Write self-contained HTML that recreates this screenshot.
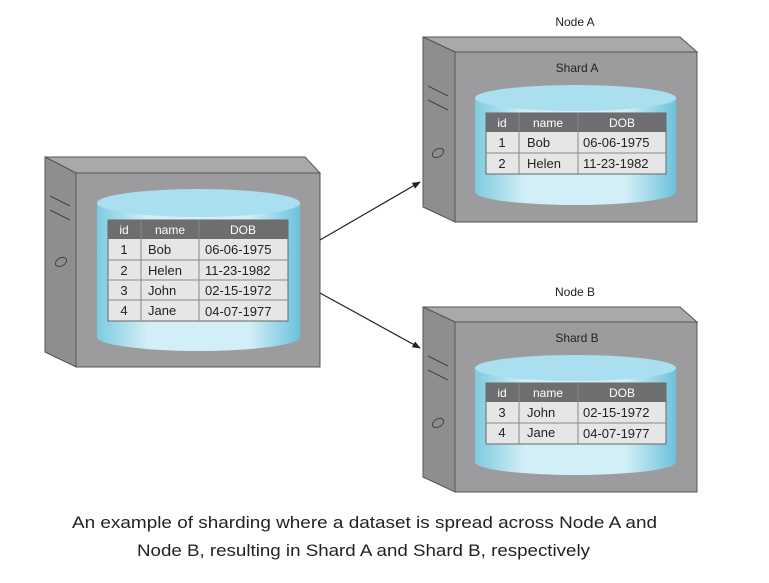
<!DOCTYPE html>
<html><head><meta charset="utf-8"><style>
html,body{margin:0;padding:0;background:#fff;width:769px;height:583px;overflow:hidden}
</style></head><body>
<svg width="769" height="583" viewBox="0 0 769 583" xmlns="http://www.w3.org/2000/svg" font-family="Liberation Sans, Arial, sans-serif">
<defs>
<linearGradient id="cyl" x1="0" x2="1" y1="0" y2="0">
<stop offset="0" stop-color="#7fcbe0"/><stop offset="0.25" stop-color="#d2eef6"/><stop offset="0.75" stop-color="#d2eef6"/><stop offset="1" stop-color="#6cc2dc"/>
</linearGradient>
<marker id="ar" viewBox="0 0 10 10" refX="9" refY="5" markerWidth="7" markerHeight="7" orient="auto"><path d="M0,1 L10,5 L0,9 z" fill="#222"/></marker>
</defs>

<!-- Left server -->
<polygon points="45,157 305,157 320,173 76,173" fill="#a9a9ab" stroke="#555" stroke-width="1"/>
<polygon points="45,157 76,173 76,367 45,352" fill="#8e8e90" stroke="#555" stroke-width="1"/>
<rect x="76" y="173" width="244" height="194" fill="#9c9c9e" stroke="#555" stroke-width="1"/>
<line x1="50" y1="196" x2="70" y2="206" stroke="#444"/><line x1="50" y1="210" x2="70" y2="220" stroke="#444"/>
<ellipse cx="61" cy="262" rx="6" ry="4" fill="none" stroke="#444" transform="rotate(-30 61 262)"/>
<path d="M97,203 L97,337 A101.5,14 0 0 0 300,337 L300,203 Z" fill="url(#cyl)"/>
<ellipse cx="198.5" cy="203" rx="101.5" ry="14" fill="#a9dfee"/>
<g>
<rect x="108" y="220" width="180" height="101" fill="#e6e6e6" stroke="#666"/>
<rect x="108" y="220" width="180" height="19" fill="#6e6e70"/>
<g stroke="#888"><line x1="108" y1="260" x2="288" y2="260"/><line x1="108" y1="280" x2="288" y2="280"/><line x1="108" y1="300" x2="288" y2="300"/>
<line x1="141" y1="220" x2="141" y2="321"/><line x1="199" y1="220" x2="199" y2="321"/></g>
<g font-size="12" fill="#fff"><text x="124" y="234" text-anchor="middle">id</text><text x="170" y="234" text-anchor="middle">name</text><text x="243" y="234" text-anchor="middle">DOB</text></g>
<g font-size="13" fill="#222">
<text x="124" y="254" text-anchor="middle">1</text><text x="148" y="254">Bob</text><text x="205" y="254">06-06-1975</text>
<text x="124" y="275" text-anchor="middle">2</text><text x="148" y="275">Helen</text><text x="205" y="275">11-23-1982</text>
<text x="124" y="295" text-anchor="middle">3</text><text x="148" y="295">John</text><text x="205" y="295">02-15-1972</text>
<text x="124" y="315" text-anchor="middle">4</text><text x="148" y="315">Jane</text><text x="205" y="316">04-07-1977</text>
</g></g>

<!-- Arrows -->
<line x1="320" y1="240" x2="420" y2="182" stroke="#222" stroke-width="1.2" marker-end="url(#ar)"/>
<line x1="320" y1="293" x2="420" y2="348" stroke="#222" stroke-width="1.2" marker-end="url(#ar)"/>

<!-- Node A -->
<text x="575" y="26" font-size="12" text-anchor="middle" fill="#222">Node A</text>
<polygon points="423,37 680,37 697,52 455,52" fill="#a9a9ab" stroke="#555"/>
<polygon points="423,37 455,52 455,222 423,207" fill="#8e8e90" stroke="#555"/>
<rect x="455" y="52" width="242" height="170" fill="#9c9c9e" stroke="#555"/>
<line x1="428" y1="86" x2="448" y2="96" stroke="#444"/><line x1="428" y1="100" x2="448" y2="110" stroke="#444"/>
<ellipse cx="438" cy="153" rx="6" ry="4" fill="none" stroke="#444" transform="rotate(-30 438 153)"/>
<text x="577" y="72" font-size="12" text-anchor="middle" fill="#222">Shard A</text>
<path d="M475,98 L475,192 A100.5,13 0 0 0 676,192 L676,98 Z" fill="url(#cyl)"/>
<ellipse cx="575.5" cy="98" rx="100.5" ry="13" fill="#a9dfee"/>
<rect x="486" y="113" width="180" height="61" fill="#e6e6e6" stroke="#666"/>
<rect x="486" y="113" width="180" height="19" fill="#6e6e70"/>
<g stroke="#888"><line x1="486" y1="153" x2="666" y2="153"/><line x1="519" y1="113" x2="519" y2="174"/><line x1="578" y1="113" x2="578" y2="174"/></g>
<g font-size="12" fill="#fff"><text x="502" y="127" text-anchor="middle">id</text><text x="548" y="127" text-anchor="middle">name</text><text x="622" y="127" text-anchor="middle">DOB</text></g>
<g font-size="13" fill="#222">
<text x="502" y="147" text-anchor="middle">1</text><text x="527" y="147">Bob</text><text x="583" y="147">06-06-1975</text>
<text x="502" y="168" text-anchor="middle">2</text><text x="527" y="168">Helen</text><text x="583" y="168">11-23-1982</text>
</g>

<!-- Node B -->
<text x="575" y="296" font-size="12" text-anchor="middle" fill="#222">Node B</text>
<polygon points="423,307 680,307 697,322 455,322" fill="#a9a9ab" stroke="#555"/>
<polygon points="423,307 455,322 455,492 423,477" fill="#8e8e90" stroke="#555"/>
<rect x="455" y="322" width="242" height="170" fill="#9c9c9e" stroke="#555"/>
<line x1="428" y1="356" x2="448" y2="366" stroke="#444"/><line x1="428" y1="370" x2="448" y2="380" stroke="#444"/>
<ellipse cx="438" cy="423" rx="6" ry="4" fill="none" stroke="#444" transform="rotate(-30 438 423)"/>
<text x="577" y="342" font-size="12" text-anchor="middle" fill="#222">Shard B</text>
<path d="M475,368 L475,462 A100.5,13 0 0 0 676,462 L676,368 Z" fill="url(#cyl)"/>
<ellipse cx="575.5" cy="368" rx="100.5" ry="13" fill="#a9dfee"/>
<rect x="486" y="383" width="180" height="61" fill="#e6e6e6" stroke="#666"/>
<rect x="486" y="383" width="180" height="19" fill="#6e6e70"/>
<g stroke="#888"><line x1="486" y1="423" x2="666" y2="423"/><line x1="519" y1="383" x2="519" y2="444"/><line x1="578" y1="383" x2="578" y2="444"/></g>
<g font-size="12" fill="#fff"><text x="502" y="397" text-anchor="middle">id</text><text x="548" y="397" text-anchor="middle">name</text><text x="622" y="397" text-anchor="middle">DOB</text></g>
<g font-size="13" fill="#222">
<text x="502" y="417" text-anchor="middle">3</text><text x="527" y="417">John</text><text x="583" y="417">02-15-1972</text>
<text x="502" y="437" text-anchor="middle">4</text><text x="527" y="437">Jane</text><text x="583" y="438">04-07-1977</text>
</g>

<!-- Caption -->
<g font-size="17" fill="#222">
<text x="72" y="528" textLength="585" lengthAdjust="spacingAndGlyphs">An example of sharding where a dataset is spread across Node A and</text>
<text x="137" y="556" textLength="453" lengthAdjust="spacingAndGlyphs">Node B, resulting in Shard A and Shard B, respectively</text>
</g>
</svg>
</body></html>
